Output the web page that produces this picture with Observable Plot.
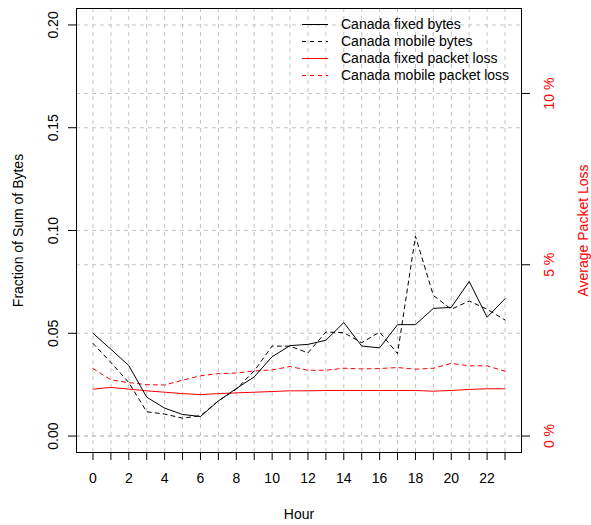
<!DOCTYPE html>
<html>
<head>
<meta charset="utf-8">
<script src="https://cdn.jsdelivr.net/npm/d3@7"></script>
<script src="https://cdn.jsdelivr.net/npm/@observablehq/plot@0.6"></script>
<style>
  body { margin: 0; background: white; }
  #wrap { position: relative; width: 591px; height: 525px; font-family: "Liberation Sans", Arial, sans-serif; }
  #legend { position: absolute; left: 302px; top: 16px; font-size: 14px; line-height: 17px; color: black; }
  #legend .row { display: flex; align-items: center; height: 17px; white-space: nowrap; }
  #legend svg { margin-right: 13px; }
</style>
</head>
<body>
<div id="wrap"></div>
<script>
// ---- data ----
const hours = [0,1,2,3,4,5,6,7,8,9,10,11,12,13,14,15,16,17,18,19,20,21,22,23];
const fixedBytes  = [0.0500,0.0422,0.0343,0.0189,0.0136,0.0105,0.0095,0.0171,0.0231,0.0288,0.0386,0.0440,0.0446,0.0466,0.0552,0.0438,0.0429,0.0542,0.0542,0.0621,0.0626,0.0752,0.0578,0.0668];
const mobileBytes = [0.0451,0.0358,0.0260,0.0118,0.0107,0.0087,0.0099,0.0171,0.0228,0.0317,0.0438,0.0437,0.0405,0.0506,0.0503,0.0454,0.0506,0.0401,0.0972,0.0684,0.0617,0.0657,0.0617,0.0565];
const fixedLoss   = [1.37,1.42,1.37,1.32,1.28,1.24,1.21,1.24,1.26,1.28,1.30,1.32,1.32,1.33,1.33,1.33,1.33,1.33,1.33,1.31,1.33,1.36,1.38,1.38]; // percent
const mobileLoss  = [1.97,1.64,1.56,1.50,1.49,1.63,1.76,1.82,1.84,1.90,1.93,2.03,1.92,1.92,1.98,1.96,1.97,2.00,1.95,1.98,2.12,2.05,2.05,1.89]; // percent
const leftTicks = [0, 0.05, 0.10, 0.15, 0.20];
const leftTickLabels = ["0.00", "0.05", "0.10", "0.15", "0.20"];
const rightTicks = [0, 5, 10];           // percent
const rightTickLabels = ["0 %", "5 %", "10 %"];
const xLabelHours = [0,2,4,6,8,10,12,14,16,18,20,22];
const seriesNames = ["Canada fixed bytes", "Canada mobile bytes", "Canada fixed packet loss", "Canada mobile packet loss"];

// secondary axis: 0..12 % maps onto 0..0.2 of the primary axis
const yMax = 0.2, lossMax = 12;
const lossToY = p => p / lossMax * yMax;

const rows = hours.map((h, i) => ({
  hour: h,
  fixedBytes: fixedBytes[i],
  mobileBytes: mobileBytes[i],
  fixedLoss: lossToY(fixedLoss[i]),
  mobileLoss: lossToY(mobileLoss[i])
}));

const rightTickRows = rightTicks.map((p, i) => ({y: lossToY(p), label: rightTickLabels[i]}));
const leftTickRows = leftTicks.map((v, i) => ({y: v, label: leftTickLabels[i]}));
const gridY = leftTicks.concat(rightTicks.map(lossToY));

const grid = {stroke: "#c4c4c4", strokeDasharray: "4,4", strokeWidth: 1};

const chart = Plot.plot({
  width: 591,
  height: 525,
  marginLeft: 76,
  marginRight: 70,
  marginTop: 8,
  marginBottom: 73,
  style: {fontFamily: "'Liberation Sans', Arial, sans-serif", fontSize: "14px", background: "white", color: "black"},
  x: {domain: [-0.92, 23.92]},
  y: {domain: [-0.008, 0.208]},
  marks: [
    Plot.ruleX(hours, {x: d => d, ...grid}),
    Plot.ruleY(gridY, {y: d => d, ...grid}),
    Plot.axisX({ticks: hours, tickSize: 8, tickPadding: 13, label: null,
      tickFormat: d => xLabelHours.includes(d) ? String(d) : ""}),
    Plot.axisY({ticks: leftTicks, tickSize: 8, tickFormat: () => "", label: null}),
    Plot.axisY({anchor: "right", ticks: rightTicks.map(lossToY), tickSize: 8, tickFormat: () => "", label: null}),
    Plot.text(leftTickRows, {y: "y", text: "label", frameAnchor: "left", dx: -19, rotate: -90,
      lineAnchor: "bottom", textAnchor: "middle", fill: "black"}),
    Plot.text(rightTickRows, {y: "y", text: "label", frameAnchor: "right", dx: 32, rotate: -90,
      lineAnchor: "bottom", textAnchor: "middle", fill: "#ff0000"}),
    Plot.text(["Fraction of Sum of Bytes"], {frameAnchor: "left", dx: -54, rotate: -90,
      lineAnchor: "bottom", textAnchor: "middle", fill: "black"}),
    Plot.text(["Average Packet Loss"], {frameAnchor: "right", dx: 66, rotate: -90,
      lineAnchor: "bottom", textAnchor: "middle", fill: "#ff0000"}),
    Plot.text(["Hour"], {frameAnchor: "bottom", dy: 66, lineAnchor: "bottom", textAnchor: "middle", fill: "black"}),
    Plot.line(rows, {x: "hour", y: "fixedLoss", stroke: "#ff0000", strokeWidth: 1}),
    Plot.line(rows, {x: "hour", y: "mobileLoss", stroke: "#ff0000", strokeWidth: 1, strokeDasharray: "4,4"}),
    Plot.line(rows, {x: "hour", y: "fixedBytes", stroke: "black", strokeWidth: 1}),
    Plot.line(rows, {x: "hour", y: "mobileBytes", stroke: "black", strokeWidth: 1, strokeDasharray: "4,4"}),
    Plot.frame({stroke: "black"})
  ]
});

const wrap = document.getElementById("wrap");
wrap.appendChild(chart);

// legend (no box, drawn over the plot area like R's legend with bty="n")
const styles = [
  {stroke: "black", dash: null},
  {stroke: "black", dash: "4,4"},
  {stroke: "#ff0000", dash: null},
  {stroke: "#ff0000", dash: "4,4"}
];
const legend = document.createElement("div");
legend.id = "legend";
seriesNames.forEach((name, i) => {
  const row = document.createElement("div");
  row.className = "row";
  const s = styles[i];
  row.innerHTML = `<svg width="26" height="17"><line x1="0" x2="26" y1="8.5" y2="8.5" stroke="${s.stroke}" stroke-width="1" ${s.dash ? `stroke-dasharray="${s.dash}"` : ""}/></svg><span>${name}</span>`;
  legend.appendChild(row);
});
wrap.appendChild(legend);
</script>
</body>
</html>
